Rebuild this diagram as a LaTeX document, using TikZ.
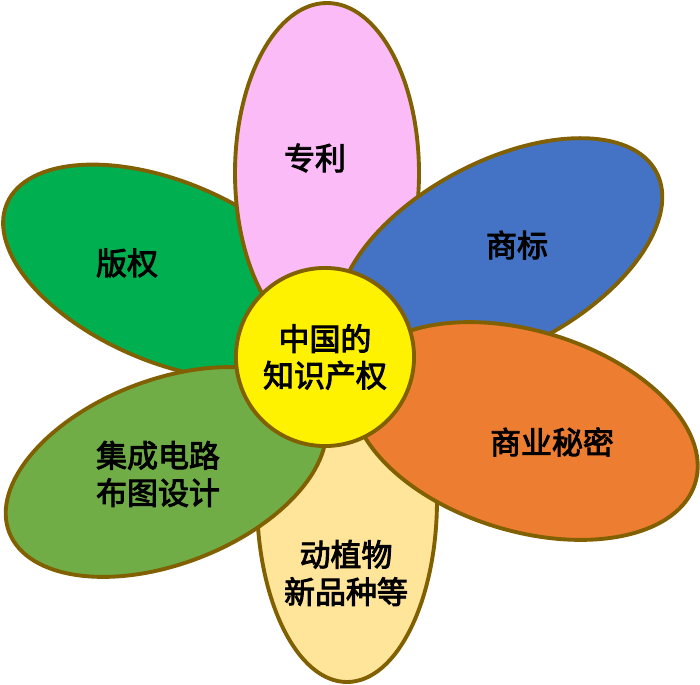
\documentclass[tikz,border=0pt]{standalone}
\usepackage{fontspec}
\newfontfamily\cjk[AutoFakeBold=3]{Noto Sans CJK SC}
\usepackage{xcolor}
\usepackage{tikz}
\usetikzlibrary{shapes}

\definecolor{rim}{RGB}{128,96,0}
\definecolor{copyg}{RGB}{0,176,80}
\definecolor{patentp}{RGB}{250,187,247}
\definecolor{markb}{RGB}{68,114,196}
\definecolor{secreto}{RGB}{237,125,49}
\definecolor{plantb}{RGB}{255,229,153}
\definecolor{circg}{RGB}{112,173,71}

\begin{document}
\begin{tikzpicture}[x=0.01cm,y=0.01cm,
	petal/.style={draw=rim,line width=1.1pt},
	petaltext/.style={font=\cjk\bfseries\fontsize{8.8}{10.6}\selectfont,align=center,inner sep=0pt}]
	\useasboundingbox (0,0) rectangle (700,684);
	% petals
	\draw[petal,fill=copyg,rotate around={-23:(168,412)}] (168,412) ellipse (175 and 90);
	\draw[petal,fill=patentp] (327,511) ellipse (92 and 170);
	\draw[petal,fill=markb,rotate around={28:(500,429)}] (500,429) ellipse (177 and 93);
	\draw[petal,fill=plantb] (347,184) ellipse (90 and 182);
	\draw[petal,fill=secreto,rotate around={-17:(525,253)}] (525,253) ellipse (178 and 100);
	\draw[petal,fill=circg,rotate around={21:(166,212)}] (166,212) ellipse (168 and 92);
	% nodes
	\node[petal,circle,fill=yellow,minimum size=1.78cm,inner sep=0pt,
		font=\cjk\bfseries\fontsize{8.8}{10.4}\selectfont,align=center] (core) at (325,327) {中国的\\知识产权};
	\node[petaltext] (patent) at (315,526) {专利};
	\node[petaltext] (mark) at (517,439) {商标};
	\node[petaltext] (copy) at (127,421) {版权};
	\node[petaltext] (secret) at (552,242) {商业秘密};
	\node[petaltext] (circuit) at (158,210) {集成电路\\布图设计};
	\node[petaltext] (plant) at (346,111) {动植物\\新品种等};
\end{tikzpicture}
\end{document}
